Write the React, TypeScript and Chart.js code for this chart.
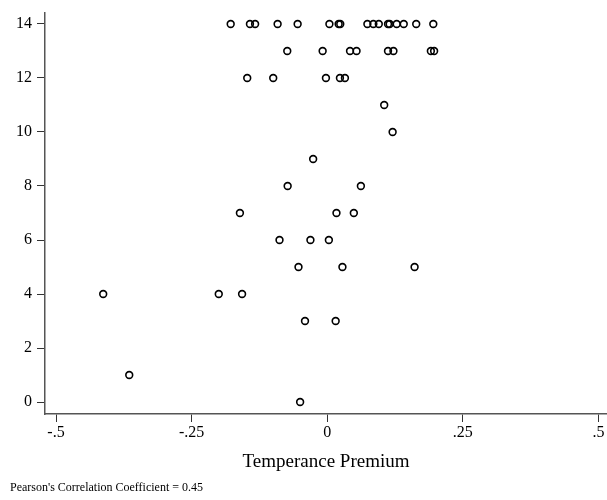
import React, { useEffect, useRef } from "react";
import { Chart, registerables } from "chart.js";

Chart.register(...registerables);

const xValues: number[] = [
  // y = 14
  -0.178, -0.1425, -0.133, -0.0915, -0.0546, 0.004, 0.021, 0.024, 0.074, 0.085, 0.095, 0.112, 0.115, 0.128, 0.141, 0.164, 0.1955,
  // y = 13
  -0.0737, -0.0085, 0.042, 0.054, 0.112, 0.122, 0.191, 0.197,
  // y = 12
  -0.1475, -0.0996, -0.0024, 0.0234, 0.0326,
  // y = 11, 10, 9
  0.105, 0.1205, -0.026,
  // y = 8
  -0.073, 0.062,
  // y = 7
  -0.161, 0.017, 0.049,
  // y = 6
  -0.088, -0.031, 0.003,
  // y = 5
  -0.053, 0.028, 0.161,
  // y = 4
  -0.413, -0.2, -0.157,
  // y = 3
  -0.041, 0.0155,
  // y = 1, 0
  -0.365, -0.05,
];

const yValues: number[] = [
  14, 14, 14, 14, 14, 14, 14, 14, 14, 14, 14, 14, 14, 14, 14, 14, 14,
  13, 13, 13, 13, 13, 13, 13, 13,
  12, 12, 12, 12, 12,
  11, 10, 9,
  8, 8,
  7, 7, 7,
  6, 6, 6,
  5, 5, 5,
  4, 4, 4,
  3, 3,
  1, 0,
];

const xTickValues: number[] = [-0.5, -0.25, 0, 0.25, 0.5];
const xTickLabels: string[] = ["-.5", "-.25", "0", ".25", ".5"];
const yTickValues: number[] = [0, 2, 4, 6, 8, 10, 12, 14];
const yTickLabels: string[] = ["0", "2", "4", "6", "8", "10", "12", "14"];

const xTitle = "Temperance Premium";
const noteText = "Pearson's Correlation Coefficient = 0.45";

const FONT = "'Liberation Serif', 'Times New Roman', serif";

export default function App() {
  const ref = useRef<HTMLCanvasElement | null>(null);

  useEffect(() => {
    if (!ref.current) return;
    const notePlugin = {
      id: "note",
      afterDraw(chart: any) {
        const ctx = chart.ctx;
        ctx.save();
        ctx.fillStyle = "#000";
        ctx.font = `12px ${FONT}`;
        ctx.textBaseline = "middle";
        ctx.textAlign = "left";
        ctx.fillText(noteText, 10, 488);
        ctx.restore();
      },
    };
    const chart = new Chart(ref.current, {
      type: "scatter",
      data: {
        datasets: [
          {
            data: xValues.map((x, i) => ({ x, y: yValues[i] })),
            pointStyle: "circle",
            pointRadius: 3.4,
            pointBorderWidth: 1.6,
            pointBorderColor: "#000",
            pointBackgroundColor: "rgba(0,0,0,0)",
            showLine: false,
          },
        ],
      },
      options: {
        animation: false,
        responsive: false,
        layout: { autoPadding: false, padding: { top: 13, right: 0, left: 0, bottom: 0 } },
        plugins: {
          legend: { display: false },
          tooltip: { enabled: false },
        },
        scales: {
          x: {
            type: "linear",
            min: -0.5203,
            max: 0.5157,
            afterFit: (s: any) => {
              s.height = 86;
              s.paddingLeft = 0;
              s.paddingRight = 0;
            },
            afterBuildTicks: (s: any) => {
              s.ticks = xTickValues.map((v) => ({ value: v }));
            },
            ticks: {
              color: "#000",
              font: { family: FONT, size: 16 },
              padding: 1,
              maxRotation: 0,
              autoSkip: false,
              callback: (v: any) => {
                const i = xTickValues.indexOf(Number(v));
                return i >= 0 ? xTickLabels[i] : "";
              },
            },
            grid: {
              drawOnChartArea: false,
              drawTicks: true,
              tickLength: 8,
              color: "#333",
              lineWidth: 1,
            },
            border: { display: true, color: "#555", width: 1.5 },
            title: {
              display: true,
              text: xTitle,
              color: "#000",
              font: { family: FONT, size: 19 },
              padding: { top: 0, bottom: 27 },
            },
          },
          y: {
            type: "linear",
            min: -0.444,
            max: 14.407,
            afterFit: (s: any) => {
              s.width = 45;
              s.paddingTop = 0;
              s.paddingBottom = 0;
            },
            afterBuildTicks: (s: any) => {
              s.ticks = yTickValues.map((v) => ({ value: v }));
            },
            ticks: {
              color: "#000",
              font: { family: FONT, size: 16 },
              padding: 5,
              autoSkip: false,
              callback: (v: any) => {
                const i = yTickValues.indexOf(Number(v));
                return i >= 0 ? yTickLabels[i] : "";
              },
            },
            grid: {
              drawOnChartArea: false,
              drawTicks: true,
              tickLength: 8,
              color: "#333",
              lineWidth: 1,
            },
            border: { display: true, color: "#555", width: 1.5 },
          },
        },
      },
      plugins: [notePlugin],
    });
    return () => chart.destroy();
  }, []);

  return (
    <div style={{ position: "absolute", left: 0, top: 0, width: 607, height: 500, background: "#fff" }}>
      <canvas ref={ref} width={607} height={500} style={{ display: "block" }} />
    </div>
  );
}
